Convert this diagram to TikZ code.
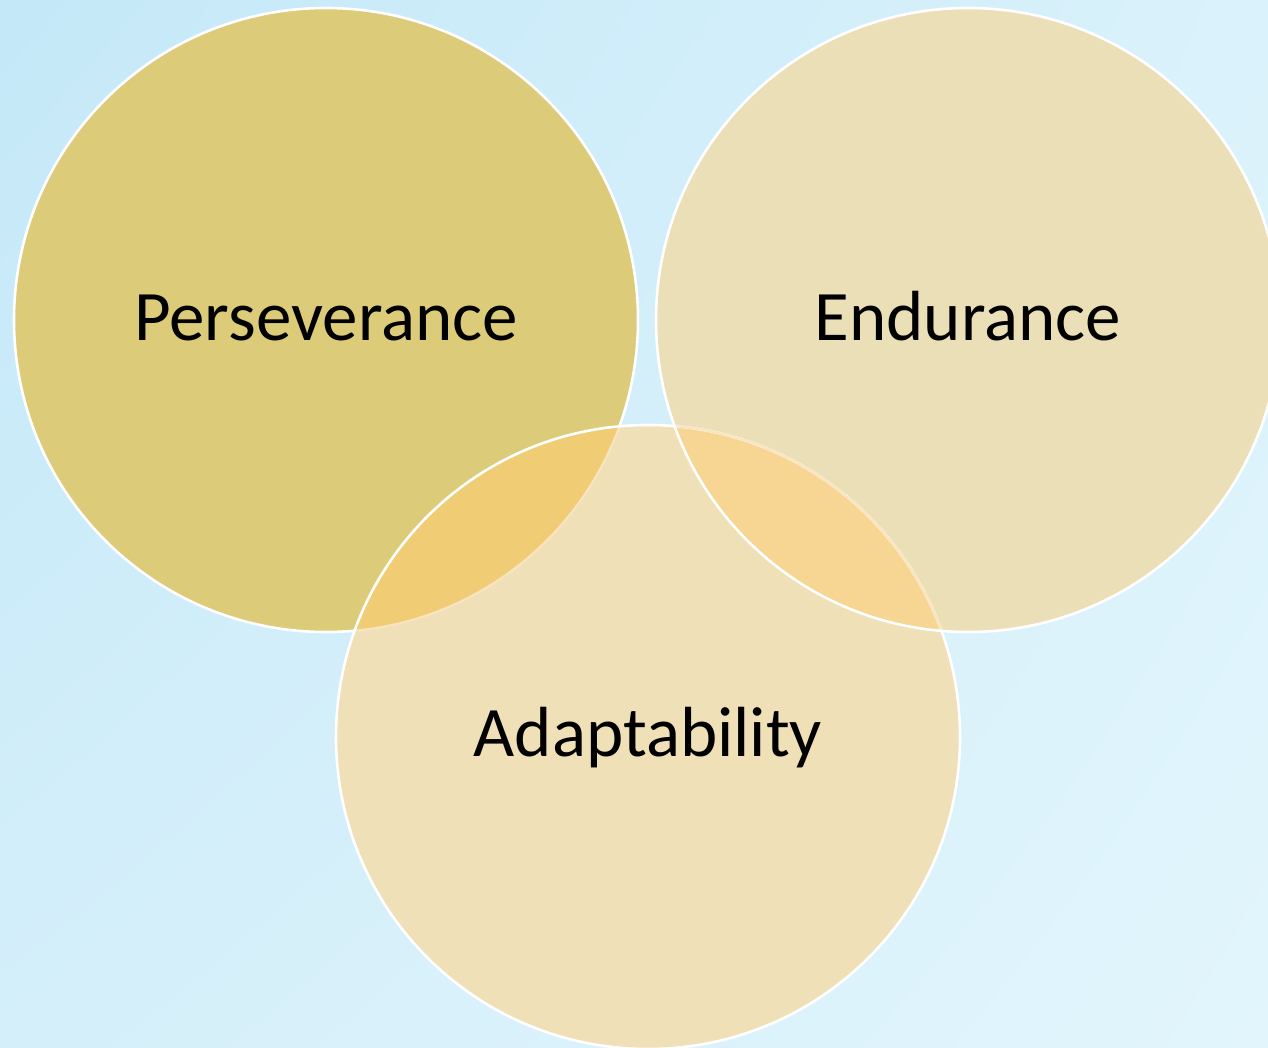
\documentclass[tikz,border=0pt]{standalone}
\usepackage{fontspec}
\setmainfont{Carlito}
\usepackage{tikz}
\usetikzlibrary{shadings}

\definecolor{bgA}{HTML}{C4E8F8}
\definecolor{bgB}{HTML}{DAF2FB}
\definecolor{bgC}{HTML}{D4EFFA}
\definecolor{bgD}{HTML}{E2F5FC}
\definecolor{perscol}{HTML}{DCCB79}
\definecolor{adapcol}{HTML}{F0E0B8}
\definecolor{endcol}{HTML}{EBDFB8}
\definecolor{pacol}{HTML}{F0CC74}
\definecolor{eacol}{HTML}{F7D694}
\definecolor{faintcol}{HTML}{FAE4C0}

\tikzset{
  ring/.style={draw=white, line width=2.6pt},
  faintring/.style={draw=faintcol, line width=2.2pt},
  label/.style={anchor=base, font=\fontsize{71}{85}\selectfont}
}

\begin{document}
\begin{tikzpicture}[x=1pt, y=-1pt]
\useasboundingbox (0, 0) rectangle (1268, 1047);
\shade[upper left=bgA, upper right=bgB, lower left=bgC, lower right=bgD] (0, 0) rectangle (1268, 1047);

\coordinate (P) at (326, 320);
\coordinate (E) at (968, 320);
\coordinate (A) at (648, 737);

% plain circles
\fill[perscol] (P) circle[radius=312pt];
\draw[ring] (P) circle[radius=312pt];
\fill[adapcol] (A) circle[radius=312pt];
\fill[endcol] (E) circle[radius=312pt];

% overlaps
\begin{scope}
\clip (A) circle[radius=312pt];
\fill[pacol] (P) circle[radius=312pt];
\fill[eacol] (E) circle[radius=312pt];
\draw[faintring] (P) circle[radius=312pt];
\end{scope}

\draw[ring] (A) circle[radius=312pt];
\begin{scope}
\clip (E) circle[radius=312pt];
\draw[faintring] (A) circle[radius=312pt];
\end{scope}
\draw[ring] (E) circle[radius=312pt];

\node[label] (pers) at (326, 340) {Perseverance};
\node[label] (endu) at (968, 340) {Endurance};
\node[label] (adap) at (648, 756) {Adaptability};
\end{tikzpicture}
\end{document}
